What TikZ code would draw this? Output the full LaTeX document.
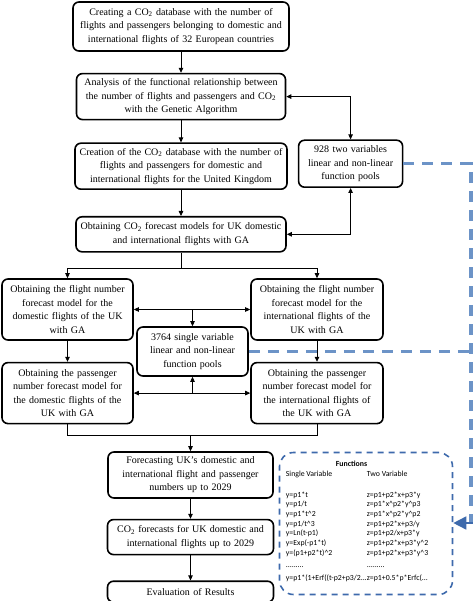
\documentclass[tikz,border=0pt]{standalone}
\usepackage{fontspec}
\setmainfont{Liberation Serif}
\newfontfamily\funcfont{Carlito}
\usepackage{xcolor}
\usetikzlibrary{arrows.meta,positioning}
\definecolor{railblue}{RGB}{108,147,199}
\definecolor{frameblue}{RGB}{62,106,172}

\begin{document}
\begin{tikzpicture}[
    x=1pt, y=-1pt,
    box/.style={rectangle, draw, line width=1.6pt, rounded corners=6pt, align=center, inner sep=2pt,
        font=\fontsize{10}{13.5}\selectfont},
    arrow/.style={-{Triangle[length=5pt,width=4.5pt]}, line width=0.8pt},
    twoway/.style={{Triangle[length=5pt,width=4.5pt]}-{Triangle[length=5pt,width=4.5pt]}, line width=0.8pt},
    rail/.style={draw=railblue, line width=3.2pt, dash pattern=on 11pt off 8pt},
    pool/.style={draw=frameblue, line width=1.6pt, dash pattern=on 6pt off 5pt, rounded corners=14pt}
]
    \useasboundingbox (0,0) rectangle (474,601);

    \node[box, text width=212pt, minimum height=49pt] (db) at (181,26.5)
        {Creating a CO\textsubscript{2} database with the number of\\flights and passengers belonging to domestic and\\international flights of 32 European countries};
    \node[box, text width=205pt, minimum height=46pt, below=21pt of db] (analysis)
        {Analysis of the functional relationship between\\the number of flights and passengers and CO\textsubscript{2}\\with the Genetic Algorithm};
    \node[box, text width=208pt, minimum height=46pt, below=22pt of analysis] (ukdb)
        {Creation of the CO\textsubscript{2} database with the number of\\flights and passengers for domestic and\\international flights for the United Kingdom};
    \node[box, text width=100pt, minimum height=47pt, right=10pt of ukdb, yshift=2.5pt] (twovar)
        {928 two variables\\linear and non-linear\\function pools};
    \node[box, text width=206pt, minimum height=35pt, below=26pt of ukdb] (models)
        {Obtaining CO\textsubscript{2} forecast models for UK domestic\\and international flights with GA};

    \node[box, text width=127pt, minimum height=61pt] (flightdom) at (67.5,309.5)
        {Obtaining the flight number\\forecast model for the\\domestic flights of the UK\\with GA};
    \node[box, text width=128pt, minimum height=61pt] (flightint) at (317,309.5)
        {Obtaining the flight number\\forecast model for the\\international flights of the\\UK with GA};
    \node[box, text width=107pt, minimum height=49pt] (onevar) at (192.5,351.5)
        {3764 single variable\\linear and non-linear\\function pools};
    \node[box, text width=127pt, minimum height=61pt, below=21pt of flightdom] (paxdom)
        {Obtaining the passenger\\number forecast model for\\the domestic flights of the\\UK with GA};
    \node[box, text width=128pt, minimum height=61pt, below=21pt of flightint] (paxint)
        {Obtaining the passenger\\number forecast model for\\the international flights of\\the UK with GA};

    \node[box, text width=161pt, minimum height=46pt] (numbers) at (190.5,475)
        {Forecasting UK's domestic and\\international flight and passenger\\numbers up to 2029};
    \node[box, text width=162pt, minimum height=35pt, below=20pt of numbers] (co2fc)
        {CO\textsubscript{2} forecasts for UK domestic and\\international flights up to 2029};
    \node[box, text width=162pt, minimum height=21pt, below=25pt of co2fc] (results)
        {Evaluation of Results};

    \node[pool, minimum width=173pt, minimum height=142pt] (funcs) at (366,523.5) {};
    \node[anchor=north west, inner sep=0pt, font=\funcfont\fontsize{7.8}{9.7}\selectfont] (functext)
        at ([xshift=7pt,yshift=-8pt]funcs.north west)
        {\begin{tabular}{@{}p{81pt}@{\hspace{0pt}}l@{}}
            \multicolumn{2}{@{}l}{\hspace{50pt}\bfseries Functions}\\
            Single Variable & Two Variable\\[11pt]
            y=p1*t & z=p1+p2*x+p3*y\\
            y=p1/t & z=p1*x\^{}p2*y\^{}p3\\
            y=p1*t\^{}2 & z=p1*x\^{}p2*y\^{}p2\\
            y=p1/t\^{}3 & z=p1+p2*x+p3/y\\
            y=Ln(t-p1) & z=p1+p2/x+p3*y\\
            y=Exp(-p1*t) & z=p1+p2*x+p3*y\^{}2\\
            y=(p1+p2*t)\^{}2 & z=p1+p2*x+p3*y\^{}3\\[3pt]
            ......... & .........\\[3pt]
            \mbox{y=p1*(1+Erf((t-p2+p3/2...} & z=p1+0.5*p*Erfc(...
        \end{tabular}};

    \coordinate (split) at ([yshift=-16pt]models.south);
    \coordinate (merge) at ([yshift=16pt]numbers.north);
    \coordinate (railtop) at (471,0 |- twovar.east);
    \coordinate (railbot) at (471,523);

    \draw[arrow] (db) -- (analysis);
    \draw[arrow] (analysis) -- (ukdb);
    \draw[arrow] (ukdb) -- (models);
    \draw[twoway] (analysis.east) -| (twovar.north);
    \draw[twoway] (models.east) -| (twovar.south);
    \draw[line width=0.8pt] (models.south) -- (split);
    \draw[arrow] (split) -| (flightdom.north);
    \draw[arrow] (split) -| (flightint.north);
    \draw[twoway] (flightdom) -- (flightint);
    \draw[arrow] (onevar.north |- flightdom.east) -- (onevar.north);
    \draw[twoway] (paxdom) -- (paxint);
    \draw[arrow] (onevar.south |- paxdom.east) -- (onevar.south);
    \draw[arrow] (flightdom) -- (paxdom);
    \draw[arrow] (flightint) -- (paxint);
    \draw[line width=0.8pt] (paxdom.south) |- (merge);
    \draw[line width=0.8pt] (paxint.south) |- (merge);
    \draw[arrow] (merge) -- (numbers);
    \draw[arrow] (numbers) -- (co2fc);
    \draw[arrow] (co2fc) -- (results);

    \draw[rail] (twovar.east) -- (railtop) -- (railbot);
    \draw[rail] (onevar.east) -- (onevar.east -| railtop);
    \draw[draw=frameblue, line width=1.6pt, -{Triangle[length=13pt,width=13pt]}, shorten <=-1.6pt]
        (railbot) -- (railbot -| funcs.east);
\end{tikzpicture}
\end{document}
